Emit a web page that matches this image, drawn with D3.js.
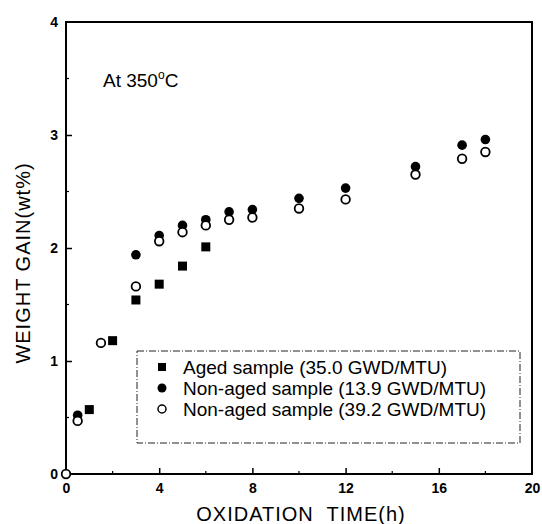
<!DOCTYPE html>
<html><head><meta charset="utf-8">
<script src="https://cdn.jsdelivr.net/npm/d3@7"></script>
<style>
html,body{margin:0;padding:0;background:#fff;}
svg text{font-family:"Liberation Sans",Arial,sans-serif;fill:#000;}
</style></head>
<body><svg id="c" width="542" height="524"></svg>
<script>
const xTicks = [0, 4, 8, 12, 16, 20];
const yTicks = [0, 1, 2, 3, 4];
const agedX = [1, 2, 3, 4, 5, 6];
const agedY = [0.57, 1.18, 1.54, 1.68, 1.84, 2.01];
const non139X = [0.5, 3, 4, 5, 6, 7, 8, 10, 12, 15, 17, 18];
const non139Y = [0.52, 1.94, 2.11, 2.20, 2.25, 2.32, 2.34, 2.44, 2.53, 2.72, 2.91, 2.96];
const non392X = [0, 0.5, 1.5, 3, 4, 5, 6, 7, 8, 10, 12, 15, 17, 18];
const non392Y = [0, 0.47, 1.16, 1.66, 2.06, 2.14, 2.20, 2.25, 2.27, 2.35, 2.43, 2.65, 2.79, 2.85];
const legendLabels = ["Aged sample (35.0 GWD/MTU)", "Non-aged sample (13.9 GWD/MTU)", "Non-aged sample (39.2 GWD/MTU)"];

const svg = d3.select("#c");
const L = 66, R = 532, T = 22, B = 474;
const x = d3.scaleLinear().domain([0, 20]).range([L, R]);
const y = d3.scaleLinear().domain([0, 4]).range([B, T]);

// frame
svg.append("rect").attr("x", L).attr("y", T).attr("width", R - L).attr("height", B - T)
  .attr("fill", "none").attr("stroke", "#000").attr("stroke-width", 2);

// axes with inside ticks
const xAxis = d3.axisBottom(x).tickValues(xTicks).tickSize(-6).tickPadding(9).tickFormat(d3.format("d"));
const gx = svg.append("g").attr("transform", `translate(0,${B})`).call(xAxis);
const yAxis = d3.axisLeft(y).tickValues(yTicks).tickSize(-6).tickPadding(8).tickFormat(d3.format("d"));
const gy = svg.append("g").attr("transform", `translate(${L},0)`).call(yAxis);
[gx, gy].forEach(g => {
  g.select(".domain").remove();
  g.selectAll(".tick line").attr("stroke", "#000").attr("stroke-width", 1.5);
  g.selectAll(".tick text").attr("font-size", 14).attr("font-weight", "bold")
    .attr("font-family", "Liberation Sans, Arial, sans-serif");
});
gx.selectAll(".tick").filter(d => d === 0 || d === 20).select("line").remove();
gy.selectAll(".tick").filter(d => d === 0 || d === 4).select("line").remove();
// minor ticks
const xMinor = d3.range(2, 20, 4);
svg.append("g").selectAll("line").data(xMinor).join("line")
  .attr("x1", d => x(d)).attr("x2", d => x(d)).attr("y1", B).attr("y2", B - 3)
  .attr("stroke", "#000").attr("stroke-width", 1.2);
const yMinor = d3.range(0.5, 4, 1);
svg.append("g").selectAll("line").data(yMinor).join("line")
  .attr("x1", L).attr("x2", L + 3).attr("y1", d => y(d)).attr("y2", d => y(d))
  .attr("stroke", "#000").attr("stroke-width", 1.2);

// axis titles
svg.append("text").attr("x", 301).attr("y", 521).attr("text-anchor", "middle")
  .attr("font-size", 20).attr("letter-spacing", 1).attr("xml:space", "preserve")
  .text("OXIDATION  TIME(h)");
svg.append("text").attr("transform", "translate(30,263) rotate(-90)").attr("text-anchor", "middle")
  .attr("font-size", 20).attr("letter-spacing", 1).text("WEIGHT GAIN(wt%)");

// annotation
const ann = svg.append("text").attr("x", 103).attr("y", 87).attr("font-size", 19);
ann.append("tspan").text("At 350");
ann.append("tspan").attr("font-size", 12).attr("dy", -8).text("o");
ann.append("tspan").attr("dy", 8).text("C");

// data
const aged = agedX.map((v, i) => ({x: v, y: agedY[i]}));
const n139 = non139X.map((v, i) => ({x: v, y: non139Y[i]}));
const n392 = non392X.map((v, i) => ({x: v, y: non392Y[i]}));
svg.append("g").selectAll("rect").data(aged).join("rect")
  .attr("x", d => x(d.x) - 4.5).attr("y", d => y(d.y) - 4.5).attr("width", 9).attr("height", 9)
  .attr("fill", "#000");
svg.append("g").selectAll("circle").data(n139).join("circle")
  .attr("cx", d => x(d.x)).attr("cy", d => y(d.y)).attr("r", 4.8).attr("fill", "#000");
svg.append("g").selectAll("circle").data(n392).join("circle")
  .attr("cx", d => x(d.x)).attr("cy", d => y(d.y)).attr("r", 4.3).attr("fill", "#fff")
  .attr("stroke", "#000").attr("stroke-width", 1.8);

// legend
const lg = svg.append("g");
lg.append("rect").attr("x", 137).attr("y", 351).attr("width", 383).attr("height", 92)
  .attr("fill", "none").attr("stroke", "#222").attr("stroke-width", 1).attr("stroke-dasharray", "7,2,1,2");
const rowsY = [367, 388, 409];
lg.append("rect").attr("x", 162 - 4).attr("y", rowsY[0] - 4).attr("width", 8).attr("height", 8).attr("fill", "#000");
lg.append("circle").attr("cx", 162).attr("cy", rowsY[1]).attr("r", 4.5).attr("fill", "#000");
lg.append("circle").attr("cx", 162).attr("cy", rowsY[2]).attr("r", 4).attr("fill", "#fff")
  .attr("stroke", "#000").attr("stroke-width", 1.5);
lg.selectAll("text").data(legendLabels).join("text")
  .attr("x", 183).attr("y", (d, i) => rowsY[i] + 7).attr("font-size", 19).text(d => d);
</script></body></html>
